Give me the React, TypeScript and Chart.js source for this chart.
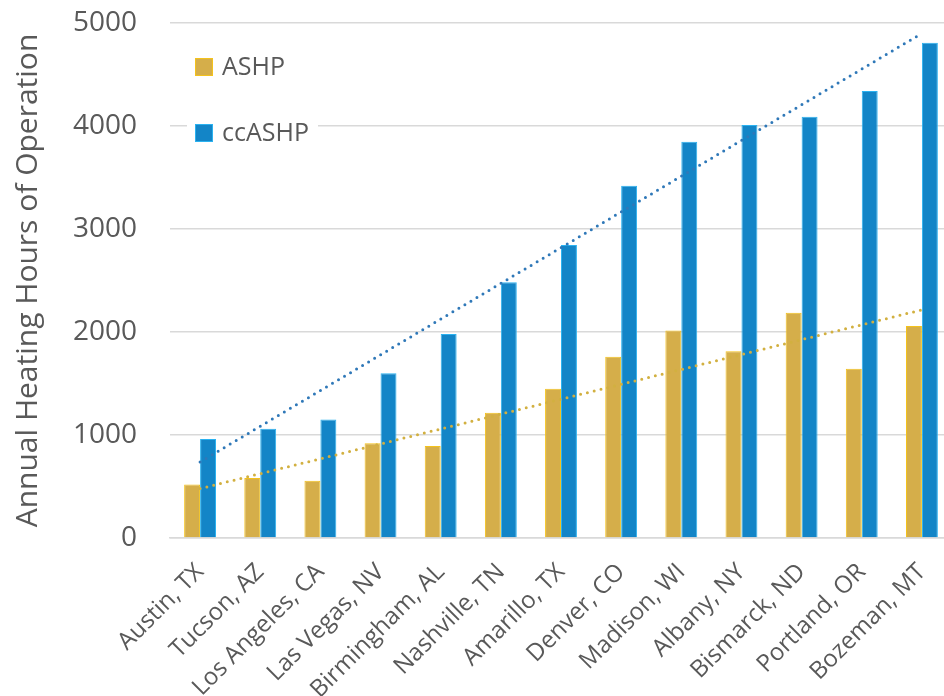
import React, { useEffect, useRef } from "react";
import { Chart, registerables } from "chart.js";

Chart.register(...registerables);

const cities = [
  "Austin, TX",
  "Tucson, AZ",
  "Los Angeles, CA",
  "Las Vegas, NV",
  "Birmingham, AL",
  "Nashville, TN",
  "Amarillo, TX",
  "Denver, CO",
  "Madison, WI",
  "Albany, NY",
  "Bismarck, ND",
  "Portland, OR",
  "Bozeman, MT",
];
const ashpHours = [520, 583, 556, 920, 892, 1215, 1448, 1760, 2014, 1813, 2188, 1642, 2059];
const ccashpHours = [960, 1060, 1150, 1600, 1980, 2483, 2844, 3420, 3847, 4010, 4090, 4340, 4809];
// linear trendline end values (first city, last city)
const ashpTrendEnds = [480, 2215];
const ccashpTrendEnds = [738, 4900];
const yTickValues = [0, 1000, 2000, 3000, 4000, 5000];
const yTitle = "Annual Heating Hours of Operation";

const FONT = "'Open Sans', sans-serif";
const GREY = "#595959";

function trendSeries(ends: number[], n: number) {
  const arr: (number | null)[] = new Array(n).fill(null);
  arr[0] = ends[0];
  arr[n - 1] = ends[1];
  return arr;
}

const insideLegend = {
  id: "insideLegend",
  afterDraw(chart: any) {
    const ctx = chart.ctx;
    const area = chart.chartArea;
    const items = chart.data.datasets.filter((d: any) => d.type === "bar");
    ctx.save();
    ctx.fillStyle = "#ffffff";
    ctx.fillRect(area.left + 17, area.top + 18, 131, 112);
    ctx.font = `25px ${FONT}`;
    ctx.textBaseline = "middle";
    items.forEach((d: any, i: number) => {
      const cy = area.top + 44 + i * 66;
      const sx = area.left + 25;
      ctx.fillStyle = d.backgroundColor;
      ctx.fillRect(sx, cy - 9, 18, 18);
      ctx.strokeStyle = d.borderColor;
      ctx.lineWidth = 1;
      ctx.strokeRect(sx + 0.5, cy - 8.5, 17, 17);
      ctx.fillStyle = GREY;
      ctx.textAlign = "left";
      ctx.fillText(d.label, sx + 27, cy + 1);
    });
    ctx.restore();
  },
};

export default function App() {
  const ref = useRef<HTMLCanvasElement | null>(null);

  useEffect(() => {
    if (!ref.current) return;
    const n = cities.length;
    const chart = new Chart(ref.current, {
      type: "bar",
      data: {
        labels: cities,
        datasets: [
          {
            type: "bar",
            label: "ASHP",
            data: ashpHours,
            backgroundColor: "#D5AE4A",
            borderColor: "#F4C21C",
            borderWidth: 1,
            categoryPercentage: 0.53,
            barPercentage: 1.0,
            order: 2,
          },
          {
            type: "bar",
            label: "ccASHP",
            data: ccashpHours,
            backgroundColor: "#1385C7",
            borderColor: "#2BB2F0",
            borderWidth: 1,
            categoryPercentage: 0.53,
            barPercentage: 1.0,
            order: 2,
          },
          {
            type: "line",
            label: "ASHP trend",
            data: trendSeries(ashpTrendEnds, n),
            borderColor: "#D2B040",
            borderWidth: 3,
            borderDash: [0, 7],
            borderCapStyle: "round",
            pointRadius: 0,
            spanGaps: true,
            fill: false,
            order: 0,
          },
          {
            type: "line",
            label: "ccASHP trend",
            data: trendSeries(ccashpTrendEnds, n),
            borderColor: "#2F78B8",
            borderWidth: 3,
            borderDash: [0, 7],
            borderCapStyle: "round",
            pointRadius: 0,
            spanGaps: true,
            fill: false,
            order: 0,
          },
        ] as any,
      },
      options: {
        responsive: false,
        animation: false,
        layout: { padding: { top: 23, left: 0, right: 0, bottom: 0 } },
        plugins: {
          legend: { display: false },
          tooltip: { enabled: false },
        },
        scales: {
          x: {
            afterFit: (axis: any) => {
              axis.paddingLeft = 0;
              axis.paddingRight = 0;
              axis.height = 158;
            },
            grid: { display: false, drawTicks: false },
            border: { display: true, color: "#D9D9D9", width: 1.5 },
            ticks: {
              autoSkip: false,
              minRotation: 45,
              maxRotation: 45,
              color: GREY,
              padding: 20,
              font: { family: FONT, size: 24 },
            },
          },
          y: {
            min: 0,
            max: 5000,
            afterBuildTicks: (axis: any) => {
              axis.ticks = yTickValues.map((v) => ({ value: v }));
            },
            afterFit: (axis: any) => {
              axis.paddingTop = 0;
              axis.paddingBottom = 0;
              axis.width = 170;
            },
            grid: { color: "#D9D9D9", lineWidth: 1.5, drawTicks: false },
            border: { display: false },
            ticks: {
              color: GREY,
              padding: 33,
              font: { family: FONT, size: 28 },
              callback: (v: any) => String(v),
            },
            title: {
              display: true,
              text: yTitle,
              color: GREY,
              font: { family: FONT, size: 30, weight: "normal" },
              padding: { top: 10, bottom: 26 },
            },
          },
        },
      },
      plugins: [insideLegend],
    });
    return () => chart.destroy();
  }, []);

  return (
    <div
      style={{
        position: "fixed",
        left: 0,
        top: 0,
        width: 944,
        height: 696,
        overflow: "hidden",
        background: "#ffffff",
      }}
    >
      <canvas ref={ref} width={952} height={696} style={{ display: "block" }} />
    </div>
  );
}
